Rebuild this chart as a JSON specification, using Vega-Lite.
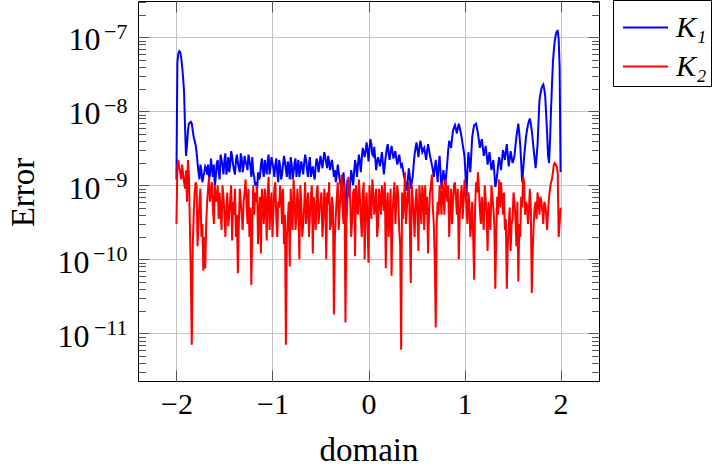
{
  "$schema": "https://vega.github.io/schema/vega-lite/v6.json",
  "width": 461,
  "height": 380,
  "autosize": {"type": "none"},
  "padding": {"left": 138, "top": 1, "right": 121, "bottom": 87},
  "background": "white",
  "config": {
    "view": {"stroke": "#000", "strokeWidth": 1},
    "axis": {
      "domain": false,
      "labelFont": "Liberation Serif",
      "titleFont": "Liberation Serif",
      "labelFontSize": 30,
      "titleFontSize": 33,
      "titleFontWeight": "normal",
      "labelColor": "#000",
      "titleColor": "#000",
      "gridColor": "#c4c4c4",
      "gridWidth": 1,
      "tickColor": "#555",
      "tickWidth": 1,
      "labelOverlap": false,
      "labelFlush": false,
      "labelBound": false
    }
  },
  "datasets": {
    "err": [
      {"x": -2, "K1": 1.2e-9, "K2": 3e-10},
      {"x": -1.98, "K1": 6e-8, "K2": 2.2e-9},
      {"x": -1.96, "K1": 6.3e-8, "K2": 1.5e-9},
      {"x": -1.94, "K1": 4e-8, "K2": 1.9e-9},
      {"x": -1.92, "K1": 1.8e-8, "K2": 1.1e-9},
      {"x": -1.9, "K1": 2.5e-9, "K2": 1.6e-9},
      {"x": -1.88, "K1": 5.5e-9, "K2": 2.2e-9},
      {"x": -1.86, "K1": 7e-9, "K2": 3e-10},
      {"x": -1.84, "K1": 6.8e-9, "K2": 7e-12},
      {"x": -1.82, "K1": 4.5e-9, "K2": 4e-10},
      {"x": -1.8, "K1": 3.5e-9, "K2": 1.1e-9},
      {"x": -1.78, "K1": 2e-9, "K2": 1.5e-10},
      {"x": -1.76, "K1": 1.2e-9, "K2": 6e-10},
      {"x": -1.74, "K1": 1.6e-9, "K2": 2e-10},
      {"x": -1.72, "K1": 1.3e-9, "K2": 7e-11},
      {"x": -1.7, "K1": 1.8e-9, "K2": 7.5e-11},
      {"x": -1.68, "K1": 1.4e-9, "K2": 6e-10},
      {"x": -1.66, "K1": 1.2e-9, "K2": 1.3e-9},
      {"x": -1.64, "K1": 2.3e-9, "K2": 8e-10},
      {"x": -1.62, "K1": 1.3e-9, "K2": 5e-10},
      {"x": -1.6, "K1": 1e-9, "K2": 1e-9},
      {"x": -1.58, "K1": 2e-9, "K2": 7e-10},
      {"x": -1.56, "K1": 1.5e-9, "K2": 3.5e-10},
      {"x": -1.54, "K1": 2.6e-9, "K2": 4.5e-10},
      {"x": -1.52, "K1": 1.8e-9, "K2": 1e-9},
      {"x": -1.5, "K1": 2.2e-9, "K2": 4e-10},
      {"x": -1.48, "K1": 1.4e-9, "K2": 5e-10},
      {"x": -1.46, "K1": 2.4e-9, "K2": 2.8e-10},
      {"x": -1.44, "K1": 1.9e-9, "K2": 6.5e-10},
      {"x": -1.42, "K1": 2.5e-9, "K2": 1.8e-10},
      {"x": -1.4, "K1": 1.6e-9, "K2": 4e-10},
      {"x": -1.38, "K1": 2.2e-9, "K2": 2e-10},
      {"x": -1.36, "K1": 2e-9, "K2": 6.5e-11},
      {"x": -1.34, "K1": 1.5e-9, "K2": 9e-10},
      {"x": -1.32, "K1": 2.3e-9, "K2": 4e-10},
      {"x": -1.3, "K1": 1.8e-9, "K2": 6e-10},
      {"x": -1.28, "K1": 2.1e-9, "K2": 1.2e-9},
      {"x": -1.26, "K1": 1.6e-9, "K2": 3e-10},
      {"x": -1.24, "K1": 2.2e-9, "K2": 2e-10},
      {"x": -1.22, "K1": 1.3e-9, "K2": 4.5e-11},
      {"x": -1.2, "K1": 1.5e-9, "K2": 1e-9},
      {"x": -1.18, "K1": 1e-9, "K2": 8e-10},
      {"x": -1.16, "K1": 8.5e-10, "K2": 1e-9},
      {"x": -1.14, "K1": 1.2e-9, "K2": 4e-10},
      {"x": -1.12, "K1": 1.9e-9, "K2": 1.2e-10},
      {"x": -1.1, "K1": 1.6e-9, "K2": 5.5e-10},
      {"x": -1.08, "K1": 2.2e-9, "K2": 9e-10},
      {"x": -1.06, "K1": 1.4e-9, "K2": 1.8e-10},
      {"x": -1.04, "K1": 2.6e-9, "K2": 1.3e-9},
      {"x": -1.02, "K1": 1.8e-9, "K2": 5e-10},
      {"x": -1, "K1": 2e-9, "K2": 2e-10},
      {"x": -0.98, "K1": 1.3e-9, "K2": 9e-10},
      {"x": -0.96, "K1": 2.3e-9, "K2": 3.5e-10},
      {"x": -0.94, "K1": 1.1e-9, "K2": 6e-10},
      {"x": -0.92, "K1": 1.8e-9, "K2": 1e-9},
      {"x": -0.9, "K1": 1.4e-9, "K2": 3e-10},
      {"x": -0.88, "K1": 2.5e-9, "K2": 1.6e-10},
      {"x": -0.86, "K1": 1.6e-9, "K2": 7e-12},
      {"x": -0.84, "K1": 2.1e-9, "K2": 3.5e-10},
      {"x": -0.82, "K1": 1.2e-9, "K2": 8e-11},
      {"x": -0.8, "K1": 1.9e-9, "K2": 4e-10},
      {"x": -0.78, "K1": 1.5e-9, "K2": 1.2e-9},
      {"x": -0.76, "K1": 2.3e-9, "K2": 2.5e-10},
      {"x": -0.74, "K1": 1.7e-9, "K2": 9e-10},
      {"x": -0.72, "K1": 1.3e-9, "K2": 1e-10},
      {"x": -0.7, "K1": 2.1e-9, "K2": 6e-10},
      {"x": -0.68, "K1": 1.4e-9, "K2": 3e-10},
      {"x": -0.66, "K1": 2.6e-9, "K2": 1.1e-9},
      {"x": -0.64, "K1": 1.6e-9, "K2": 5e-10},
      {"x": -0.62, "K1": 2e-9, "K2": 2e-10},
      {"x": -0.6, "K1": 1.3e-9, "K2": 7e-10},
      {"x": -0.58, "K1": 1.8e-9, "K2": 1.2e-10},
      {"x": -0.56, "K1": 1.2e-9, "K2": 4.5e-10},
      {"x": -0.54, "K1": 2.3e-9, "K2": 8e-10},
      {"x": -0.52, "K1": 1.5e-9, "K2": 3e-10},
      {"x": -0.5, "K1": 2.5e-9, "K2": 6e-10},
      {"x": -0.48, "K1": 1.7e-9, "K2": 2e-10},
      {"x": -0.46, "K1": 2.8e-9, "K2": 9e-10},
      {"x": -0.44, "K1": 2e-9, "K2": 1e-10},
      {"x": -0.42, "K1": 2.5e-9, "K2": 5.5e-10},
      {"x": -0.4, "K1": 1.6e-9, "K2": 2.5e-10},
      {"x": -0.38, "K1": 2.2e-9, "K2": 7e-10},
      {"x": -0.36, "K1": 1.3e-9, "K2": 1.8e-11},
      {"x": -0.34, "K1": 1.1e-9, "K2": 4e-10},
      {"x": -0.32, "K1": 1.9e-9, "K2": 1.1e-9},
      {"x": -0.3, "K1": 1.2e-9, "K2": 5e-10},
      {"x": -0.28, "K1": 8e-10, "K2": 1.4e-9},
      {"x": -0.26, "K1": 1.5e-9, "K2": 3e-10},
      {"x": -0.24, "K1": 3e-10, "K2": 1.4e-11},
      {"x": -0.22, "K1": 1.2e-9, "K2": 6e-10},
      {"x": -0.2, "K1": 7e-10, "K2": 1e-9},
      {"x": -0.18, "K1": 1.6e-9, "K2": 2e-10},
      {"x": -0.16, "K1": 1e-9, "K2": 8e-10},
      {"x": -0.14, "K1": 2.2e-9, "K2": 1.1e-10},
      {"x": -0.12, "K1": 1.3e-9, "K2": 6e-10},
      {"x": -0.1, "K1": 2.6e-9, "K2": 1.2e-9},
      {"x": -0.08, "K1": 1.5e-9, "K2": 3.5e-10},
      {"x": -0.06, "K1": 3.2e-9, "K2": 7.5e-10},
      {"x": -0.04, "K1": 2.4e-9, "K2": 1e-10},
      {"x": -0.02, "K1": 3.8e-9, "K2": 8e-10},
      {"x": 0, "K1": 2.1e-9, "K2": 9e-11},
      {"x": 0.02, "K1": 4.2e-9, "K2": 6e-10},
      {"x": 0.04, "K1": 2.6e-9, "K2": 1.2e-9},
      {"x": 0.06, "K1": 3.3e-9, "K2": 4e-10},
      {"x": 0.08, "K1": 1.6e-9, "K2": 9e-10},
      {"x": 0.1, "K1": 2.4e-9, "K2": 3e-10},
      {"x": 0.12, "K1": 1.8e-9, "K2": 6.5e-10},
      {"x": 0.14, "K1": 2.8e-9, "K2": 1e-9},
      {"x": 0.16, "K1": 1.4e-9, "K2": 4.5e-10},
      {"x": 0.18, "K1": 2.5e-9, "K2": 7.6e-11},
      {"x": 0.2, "K1": 3.6e-9, "K2": 8e-10},
      {"x": 0.22, "K1": 2.2e-9, "K2": 4e-10},
      {"x": 0.24, "K1": 3.4e-9, "K2": 6e-11},
      {"x": 0.26, "K1": 2.3e-9, "K2": 7e-10},
      {"x": 0.28, "K1": 2.9e-9, "K2": 3e-10},
      {"x": 0.3, "K1": 1.9e-9, "K2": 1e-9},
      {"x": 0.32, "K1": 2.6e-9, "K2": 2.5e-10},
      {"x": 0.34, "K1": 1.8e-9, "K2": 6e-12},
      {"x": 0.36, "K1": 1.6e-9, "K2": 3.5e-10},
      {"x": 0.38, "K1": 1.2e-9, "K2": 1.5e-9},
      {"x": 0.4, "K1": 8.5e-10, "K2": 5e-10},
      {"x": 0.42, "K1": 1.7e-9, "K2": 1.1e-9},
      {"x": 0.44, "K1": 9e-10, "K2": 4.8e-11},
      {"x": 0.46, "K1": 1.3e-9, "K2": 7e-10},
      {"x": 0.48, "K1": 2.6e-9, "K2": 2e-10},
      {"x": 0.5, "K1": 3.8e-9, "K2": 9e-10},
      {"x": 0.52, "K1": 2.4e-9, "K2": 1.3e-10},
      {"x": 0.54, "K1": 4e-9, "K2": 6e-10},
      {"x": 0.56, "K1": 2.8e-9, "K2": 1e-9},
      {"x": 0.58, "K1": 3.2e-9, "K2": 2.5e-10},
      {"x": 0.6, "K1": 2.2e-9, "K2": 4e-10},
      {"x": 0.62, "K1": 3.6e-9, "K2": 1.2e-10},
      {"x": 0.64, "K1": 2.5e-9, "K2": 8e-10},
      {"x": 0.66, "K1": 1.9e-9, "K2": 1.4e-9},
      {"x": 0.68, "K1": 1.3e-9, "K2": 3e-10},
      {"x": 0.7, "K1": 2.2e-9, "K2": 1.2e-11},
      {"x": 0.72, "K1": 1.1e-9, "K2": 6e-10},
      {"x": 0.74, "K1": 2.5e-9, "K2": 1e-9},
      {"x": 0.76, "K1": 9e-10, "K2": 4e-10},
      {"x": 0.78, "K1": 1.6e-9, "K2": 8e-10},
      {"x": 0.8, "K1": 1e-9, "K2": 1.2e-9},
      {"x": 0.82, "K1": 2e-9, "K2": 6e-10},
      {"x": 0.84, "K1": 4e-9, "K2": 2e-10},
      {"x": 0.86, "K1": 3.2e-9, "K2": 9e-10},
      {"x": 0.88, "K1": 5.5e-9, "K2": 6e-10},
      {"x": 0.9, "K1": 6.5e-9, "K2": 1.1e-9},
      {"x": 0.92, "K1": 5e-9, "K2": 4e-10},
      {"x": 0.94, "K1": 6.8e-9, "K2": 1e-10},
      {"x": 0.96, "K1": 5.2e-9, "K2": 7e-10},
      {"x": 0.98, "K1": 3.6e-9, "K2": 3.5e-10},
      {"x": 1, "K1": 2.4e-9, "K2": 1.2e-9},
      {"x": 1.02, "K1": 7e-10, "K2": 5e-10},
      {"x": 1.04, "K1": 2.8e-9, "K2": 8e-10},
      {"x": 1.06, "K1": 1.5e-9, "K2": 2e-10},
      {"x": 1.08, "K1": 4.5e-9, "K2": 6e-10},
      {"x": 1.1, "K1": 6.5e-9, "K2": 5.3e-11},
      {"x": 1.12, "K1": 6.8e-9, "K2": 1.1e-9},
      {"x": 1.14, "K1": 5e-9, "K2": 1.5e-9},
      {"x": 1.16, "K1": 3.2e-9, "K2": 4.5e-10},
      {"x": 1.18, "K1": 4.2e-9, "K2": 7e-10},
      {"x": 1.2, "K1": 2.5e-9, "K2": 2.5e-10},
      {"x": 1.22, "K1": 3.4e-9, "K2": 6.5e-10},
      {"x": 1.24, "K1": 1.9e-9, "K2": 1.3e-10},
      {"x": 1.26, "K1": 2.8e-9, "K2": 3.5e-10},
      {"x": 1.28, "K1": 1.6e-9, "K2": 1e-9},
      {"x": 1.3, "K1": 2.2e-9, "K2": 5e-10},
      {"x": 1.32, "K1": 9.5e-10, "K2": 4e-11},
      {"x": 1.34, "K1": 1.4e-9, "K2": 7e-10},
      {"x": 1.36, "K1": 2.4e-9, "K2": 1.2e-9},
      {"x": 1.38, "K1": 1.6e-9, "K2": 1.1e-9},
      {"x": 1.4, "K1": 3e-9, "K2": 4e-10},
      {"x": 1.42, "K1": 2.2e-9, "K2": 2.5e-10},
      {"x": 1.44, "K1": 3.6e-9, "K2": 4e-11},
      {"x": 1.46, "K1": 1.8e-9, "K2": 3e-10},
      {"x": 1.48, "K1": 2.9e-9, "K2": 1.3e-10},
      {"x": 1.5, "K1": 2e-9, "K2": 3.5e-10},
      {"x": 1.52, "K1": 2.5e-9, "K2": 6e-10},
      {"x": 1.54, "K1": 4.5e-9, "K2": 1.5e-10},
      {"x": 1.56, "K1": 6.8e-9, "K2": 5e-11},
      {"x": 1.58, "K1": 3.5e-9, "K2": 2e-10},
      {"x": 1.6, "K1": 1.1e-9, "K2": 5e-10},
      {"x": 1.62, "K1": 2.4e-9, "K2": 1.1e-9},
      {"x": 1.64, "K1": 4.5e-9, "K2": 6e-10},
      {"x": 1.66, "K1": 6.5e-9, "K2": 3e-10},
      {"x": 1.68, "K1": 8e-9, "K2": 9e-10},
      {"x": 1.7, "K1": 5.5e-9, "K2": 3.5e-11},
      {"x": 1.72, "K1": 3e-9, "K2": 3e-10},
      {"x": 1.74, "K1": 1.7e-9, "K2": 6e-10},
      {"x": 1.76, "K1": 3.5e-9, "K2": 8e-10},
      {"x": 1.78, "K1": 1.4e-8, "K2": 4e-10},
      {"x": 1.8, "K1": 2e-8, "K2": 6e-10},
      {"x": 1.82, "K1": 2.3e-8, "K2": 3e-10},
      {"x": 1.84, "K1": 1.6e-8, "K2": 5.5e-10},
      {"x": 1.86, "K1": 5e-9, "K2": 2.5e-10},
      {"x": 1.88, "K1": 2e-9, "K2": 7e-10},
      {"x": 1.9, "K1": 1e-8, "K2": 1.1e-9},
      {"x": 1.92, "K1": 4.5e-8, "K2": 1.5e-9},
      {"x": 1.94, "K1": 9e-8, "K2": 2e-9},
      {"x": 1.96, "K1": 1.2e-7, "K2": 1.8e-9},
      {"x": 1.98, "K1": 9.5e-8, "K2": 2e-10},
      {"x": 2, "K1": 1.5e-9, "K2": 5e-10},
      {"x": -1.99, "K1": 4.5e-8, "K2": 1.8e-9},
      {"x": -1.97, "K1": 6.5e-8, "K2": 1.7e-9},
      {"x": -1.95, "K1": 5.3e-8, "K2": 1.2e-9},
      {"x": -1.93, "K1": 2.8e-8, "K2": 1.4e-9},
      {"x": -1.91, "K1": 6e-9, "K2": 9e-10},
      {"x": -1.89, "K1": 3.5e-9, "K2": 6e-10},
      {"x": -1.87, "K1": 6.8e-9, "K2": 1.4e-9},
      {"x": -1.85, "K1": 7.2e-9, "K2": 6e-11},
      {"x": -1.83, "K1": 5.5e-9, "K2": 1.5e-10},
      {"x": -1.81, "K1": 4e-9, "K2": 8e-10},
      {"x": -1.79, "K1": 2.8e-9, "K2": 1e-9},
      {"x": -1.77, "K1": 1.5e-9, "K2": 3e-10},
      {"x": -1.75, "K1": 1.9e-9, "K2": 9e-10},
      {"x": -1.73, "K1": 1.1e-9, "K2": 3e-10},
      {"x": -1.71, "K1": 1.5e-9, "K2": 2e-10},
      {"x": -1.69, "K1": 1.7e-9, "K2": 3e-10},
      {"x": -1.67, "K1": 1.9e-9, "K2": 9e-10},
      {"x": -1.65, "K1": 1.4e-9, "K2": 6e-10},
      {"x": -1.63, "K1": 1.7e-9, "K2": 1.1e-9},
      {"x": -1.61, "K1": 1.9e-9, "K2": 3e-10},
      {"x": -1.59, "K1": 1.3e-9, "K2": 6e-10},
      {"x": -1.57, "K1": 2.2e-9, "K2": 1e-9},
      {"x": -1.55, "K1": 1.2e-9, "K2": 8e-10},
      {"x": -1.53, "K1": 2.2e-9, "K2": 2.5e-10},
      {"x": -1.51, "K1": 1.4e-9, "K2": 7e-10},
      {"x": -1.49, "K1": 2.7e-9, "K2": 2e-10},
      {"x": -1.47, "K1": 1.7e-9, "K2": 8e-10},
      {"x": -1.45, "K1": 1.5e-9, "K2": 4e-10},
      {"x": -1.43, "K1": 2.9e-9, "K2": 1e-9},
      {"x": -1.41, "K1": 1.9e-9, "K2": 6e-10},
      {"x": -1.39, "K1": 1.4e-9, "K2": 9e-10},
      {"x": -1.37, "K1": 2.6e-9, "K2": 4e-10},
      {"x": -1.35, "K1": 1.7e-9, "K2": 3e-10},
      {"x": -1.33, "K1": 2.7e-9, "K2": 6e-10},
      {"x": -1.31, "K1": 1.5e-9, "K2": 2.5e-10},
      {"x": -1.29, "K1": 2.5e-9, "K2": 8e-10},
      {"x": -1.27, "K1": 1.9e-9, "K2": 6e-10},
      {"x": -1.25, "K1": 2.6e-9, "K2": 9e-10},
      {"x": -1.23, "K1": 1.8e-9, "K2": 5e-10},
      {"x": -1.21, "K1": 2.4e-9, "K2": 3e-10},
      {"x": -1.19, "K1": 1.3e-9, "K2": 4e-10},
      {"x": -1.17, "K1": 1.1e-9, "K2": 6e-10},
      {"x": -1.15, "K1": 1.5e-9, "K2": 1.6e-10},
      {"x": -1.13, "K1": 1.3e-9, "K2": 7e-10},
      {"x": -1.11, "K1": 2.3e-9, "K2": 9e-10},
      {"x": -1.09, "K1": 1.3e-9, "K2": 3e-10},
      {"x": -1.07, "K1": 1.8e-9, "K2": 6e-10},
      {"x": -1.05, "K1": 2.1e-9, "K2": 8e-10},
      {"x": -1.03, "K1": 1.4e-9, "K2": 2.5e-10},
      {"x": -1.01, "K1": 2.4e-9, "K2": 8e-10},
      {"x": -0.99, "K1": 1.7e-9, "K2": 4.5e-10},
      {"x": -0.97, "K1": 1.9e-9, "K2": 1.1e-9},
      {"x": -0.95, "K1": 1.5e-9, "K2": 2e-10},
      {"x": -0.93, "K1": 2.2e-9, "K2": 5e-10},
      {"x": -0.91, "K1": 1.2e-9, "K2": 7e-10},
      {"x": -0.89, "K1": 1.9e-9, "K2": 9e-10},
      {"x": -0.87, "K1": 2.1e-9, "K2": 4e-10},
      {"x": -0.85, "K1": 1.3e-9, "K2": 2e-10},
      {"x": -0.83, "K1": 1.7e-9, "K2": 6e-10},
      {"x": -0.81, "K1": 2.4e-9, "K2": 9e-10},
      {"x": -0.79, "K1": 1.2e-9, "K2": 2.5e-10},
      {"x": -0.77, "K1": 2e-9, "K2": 7e-10},
      {"x": -0.75, "K1": 1.3e-9, "K2": 4e-10},
      {"x": -0.73, "K1": 2.2e-9, "K2": 5e-10},
      {"x": -0.71, "K1": 1.6e-9, "K2": 1e-9},
      {"x": -0.69, "K1": 1.8e-9, "K2": 2e-10},
      {"x": -0.67, "K1": 2e-9, "K2": 5e-10},
      {"x": -0.65, "K1": 2.2e-9, "K2": 3e-10},
      {"x": -0.63, "K1": 1.3e-9, "K2": 8e-10},
      {"x": -0.61, "K1": 2.4e-9, "K2": 4e-10},
      {"x": -0.59, "K1": 1.6e-9, "K2": 1e-9},
      {"x": -0.57, "K1": 1.4e-9, "K2": 7e-10},
      {"x": -0.55, "K1": 1.8e-9, "K2": 2.5e-10},
      {"x": -0.53, "K1": 2e-9, "K2": 1e-9},
      {"x": -0.51, "K1": 1.9e-9, "K2": 4.5e-10},
      {"x": -0.49, "K1": 2.1e-9, "K2": 8e-10},
      {"x": -0.47, "K1": 2.2e-9, "K2": 3.5e-10},
      {"x": -0.45, "K1": 2.4e-9, "K2": 6e-10},
      {"x": -0.43, "K1": 1.7e-9, "K2": 8e-10},
      {"x": -0.41, "K1": 2.1e-9, "K2": 1.1e-9},
      {"x": -0.39, "K1": 1.9e-9, "K2": 3e-10},
      {"x": -0.37, "K1": 1.7e-9, "K2": 5e-10},
      {"x": -0.35, "K1": 1.6e-9, "K2": 2e-10},
      {"x": -0.33, "K1": 1.4e-9, "K2": 7e-10},
      {"x": -0.31, "K1": 1.5e-9, "K2": 2.5e-10},
      {"x": -0.29, "K1": 1e-9, "K2": 8e-10},
      {"x": -0.27, "K1": 1.2e-9, "K2": 5e-10},
      {"x": -0.25, "K1": 9e-10, "K2": 1.1e-9},
      {"x": -0.23, "K1": 6e-10, "K2": 3e-10},
      {"x": -0.21, "K1": 1e-9, "K2": 1.3e-9},
      {"x": -0.19, "K1": 1.1e-9, "K2": 6e-10},
      {"x": -0.17, "K1": 1.3e-9, "K2": 3.5e-10},
      {"x": -0.15, "K1": 1.5e-9, "K2": 9e-10},
      {"x": -0.13, "K1": 1.8e-9, "K2": 1e-9},
      {"x": -0.11, "K1": 1.9e-9, "K2": 4e-10},
      {"x": -0.09, "K1": 2.1e-9, "K2": 7e-10},
      {"x": -0.07, "K1": 2.3e-9, "K2": 2e-10},
      {"x": -0.05, "K1": 2.8e-9, "K2": 1.1e-9},
      {"x": -0.03, "K1": 2.9e-9, "K2": 5e-10},
      {"x": -0.01, "K1": 3e-9, "K2": 3e-10},
      {"x": 0.01, "K1": 3.1e-9, "K2": 1e-9},
      {"x": 0.03, "K1": 3.6e-9, "K2": 3.5e-10},
      {"x": 0.05, "K1": 2.5e-9, "K2": 8e-10},
      {"x": 0.07, "K1": 2.3e-9, "K2": 6e-10},
      {"x": 0.09, "K1": 2.1e-9, "K2": 2e-10},
      {"x": 0.11, "K1": 2.1e-9, "K2": 9e-10},
      {"x": 0.13, "K1": 2.3e-9, "K2": 4e-10},
      {"x": 0.15, "K1": 2e-9, "K2": 7e-10},
      {"x": 0.17, "K1": 1.9e-9, "K2": 1.1e-9},
      {"x": 0.19, "K1": 3.1e-9, "K2": 5e-10},
      {"x": 0.21, "K1": 2.7e-9, "K2": 2e-10},
      {"x": 0.23, "K1": 2.8e-9, "K2": 9e-10},
      {"x": 0.25, "K1": 2.8e-9, "K2": 4e-10},
      {"x": 0.27, "K1": 2.6e-9, "K2": 1.1e-9},
      {"x": 0.29, "K1": 2.3e-9, "K2": 6e-10},
      {"x": 0.31, "K1": 2.2e-9, "K2": 7e-10},
      {"x": 0.33, "K1": 2.1e-9, "K2": 1.5e-10},
      {"x": 0.35, "K1": 1.9e-9, "K2": 8e-10},
      {"x": 0.37, "K1": 1.3e-9, "K2": 6e-10},
      {"x": 0.39, "K1": 1e-9, "K2": 3e-10},
      {"x": 0.41, "K1": 1.2e-9, "K2": 8e-10},
      {"x": 0.43, "K1": 1.3e-9, "K2": 3e-10},
      {"x": 0.45, "K1": 1.1e-9, "K2": 1e-9},
      {"x": 0.47, "K1": 1.9e-9, "K2": 4e-10},
      {"x": 0.49, "K1": 3.2e-9, "K2": 6e-10},
      {"x": 0.51, "K1": 3e-9, "K2": 4e-10},
      {"x": 0.53, "K1": 3.2e-9, "K2": 1e-9},
      {"x": 0.55, "K1": 3.4e-9, "K2": 3e-10},
      {"x": 0.57, "K1": 3e-9, "K2": 7e-10},
      {"x": 0.59, "K1": 2.7e-9, "K2": 1e-9},
      {"x": 0.61, "K1": 2.9e-9, "K2": 7e-10},
      {"x": 0.63, "K1": 3e-9, "K2": 4e-10},
      {"x": 0.65, "K1": 2.2e-9, "K2": 1e-9},
      {"x": 0.67, "K1": 1.6e-9, "K2": 5e-10},
      {"x": 0.69, "K1": 1.7e-9, "K2": 1e-10},
      {"x": 0.71, "K1": 1.6e-9, "K2": 3e-10},
      {"x": 0.73, "K1": 1.8e-9, "K2": 4e-10},
      {"x": 0.75, "K1": 1.5e-9, "K2": 7e-10},
      {"x": 0.77, "K1": 1.2e-9, "K2": 1.1e-9},
      {"x": 0.79, "K1": 1.3e-9, "K2": 4e-10},
      {"x": 0.81, "K1": 1.4e-9, "K2": 9e-10},
      {"x": 0.83, "K1": 3e-9, "K2": 1e-9},
      {"x": 0.85, "K1": 3.6e-9, "K2": 5e-10},
      {"x": 0.87, "K1": 4.3e-9, "K2": 3e-10},
      {"x": 0.89, "K1": 6e-9, "K2": 1e-9},
      {"x": 0.91, "K1": 5.8e-9, "K2": 7e-10},
      {"x": 0.93, "K1": 5.9e-9, "K2": 9e-10},
      {"x": 0.95, "K1": 6e-9, "K2": 4e-10},
      {"x": 0.97, "K1": 4.4e-9, "K2": 1e-9},
      {"x": 0.99, "K1": 3e-9, "K2": 6e-10},
      {"x": 1.01, "K1": 1.4e-9, "K2": 9e-10},
      {"x": 1.03, "K1": 1.6e-9, "K2": 3e-10},
      {"x": 1.05, "K1": 2.1e-9, "K2": 6e-10},
      {"x": 1.07, "K1": 2.6e-9, "K2": 3e-10},
      {"x": 1.09, "K1": 5.5e-9, "K2": 2e-10},
      {"x": 1.11, "K1": 6.6e-9, "K2": 5e-10},
      {"x": 1.13, "K1": 5.9e-9, "K2": 8e-10},
      {"x": 1.15, "K1": 4e-9, "K2": 9e-10},
      {"x": 1.17, "K1": 3.7e-9, "K2": 3e-10},
      {"x": 1.19, "K1": 3.3e-9, "K2": 4e-10},
      {"x": 1.21, "K1": 2.9e-9, "K2": 1e-9},
      {"x": 1.23, "K1": 2.6e-9, "K2": 4e-10},
      {"x": 1.25, "K1": 2.3e-9, "K2": 6e-10},
      {"x": 1.27, "K1": 2.1e-9, "K2": 2.5e-10},
      {"x": 1.29, "K1": 1.9e-9, "K2": 7e-10},
      {"x": 1.31, "K1": 1.5e-9, "K2": 3e-10},
      {"x": 1.33, "K1": 1.1e-9, "K2": 2e-10},
      {"x": 1.35, "K1": 1.9e-9, "K2": 4e-10},
      {"x": 1.37, "K1": 2e-9, "K2": 5e-10},
      {"x": 1.39, "K1": 2.2e-9, "K2": 7e-10},
      {"x": 1.41, "K1": 2.6e-9, "K2": 8e-10},
      {"x": 1.43, "K1": 2.9e-9, "K2": 3.5e-10},
      {"x": 1.45, "K1": 2.6e-9, "K2": 1.5e-10},
      {"x": 1.47, "K1": 2.3e-9, "K2": 5e-10},
      {"x": 1.49, "K1": 2.4e-9, "K2": 3e-10},
      {"x": 1.51, "K1": 2.2e-9, "K2": 8e-10},
      {"x": 1.53, "K1": 3.4e-9, "K2": 3.5e-10},
      {"x": 1.55, "K1": 5.6e-9, "K2": 6e-10},
      {"x": 1.57, "K1": 5e-9, "K2": 3e-10},
      {"x": 1.59, "K1": 2e-9, "K2": 7e-10},
      {"x": 1.61, "K1": 1.6e-9, "K2": 1.3e-9},
      {"x": 1.63, "K1": 3.3e-9, "K2": 4e-10},
      {"x": 1.65, "K1": 5.5e-9, "K2": 5.5e-10},
      {"x": 1.67, "K1": 7.3e-9, "K2": 4.5e-10},
      {"x": 1.69, "K1": 6.8e-9, "K2": 5e-10},
      {"x": 1.71, "K1": 4.1e-9, "K2": 1.3e-10},
      {"x": 1.73, "K1": 2.3e-9, "K2": 5e-10},
      {"x": 1.75, "K1": 2.4e-9, "K2": 3.5e-10},
      {"x": 1.77, "K1": 7e-9, "K2": 6e-10},
      {"x": 1.79, "K1": 1.7e-8, "K2": 7e-10},
      {"x": 1.81, "K1": 2.2e-8, "K2": 4.5e-10},
      {"x": 1.83, "K1": 2e-8, "K2": 6e-10},
      {"x": 1.85, "K1": 9e-9, "K2": 4e-10},
      {"x": 1.87, "K1": 2.5e-9, "K2": 4.5e-10},
      {"x": 1.89, "K1": 4e-9, "K2": 9e-10},
      {"x": 1.91, "K1": 2.2e-8, "K2": 1.2e-9},
      {"x": 1.93, "K1": 6.8e-8, "K2": 1.9e-9},
      {"x": 1.95, "K1": 1.08e-7, "K2": 1.9e-9},
      {"x": 1.97, "K1": 1.22e-7, "K2": 1.5e-9},
      {"x": 1.99, "K1": 4e-8, "K2": 3e-10}
    ]
  },
  "data": {"name": "err"},
  "transform": [{"fold": ["K1", "K2"], "as": ["series", "err"]}],
  "layer": [
    {
      "transform": [{"filter": "datum.series === 'K1'"}],
      "mark": {"type": "line", "strokeWidth": 2, "clip": true},
      "encoding": {
        "x": {
          "field": "x", "type": "quantitative",
          "scale": {"domain": [-2.4, 2.4], "nice": false, "zero": false},
          "axis": {
            "orient": "bottom", "title": "domain", "labels": false,
            "values": [-2, -1, 0, 1, 2],
            "grid": true, "tickSize": -11,
            "titleY": 79, "titleBaseline": "alphabetic"
          }
        },
        "y": {
          "field": "err", "type": "quantitative",
          "scale": {"type": "log", "domain": [2.27e-12, 3.09e-7], "nice": false},
          "axis": {
            "orient": "left", "title": "Error", "labels": false,
            "titleX": -105, "titleY": 191, "titleAlign": "center", "titleBaseline": "alphabetic", "titleAngle": -90,
            "values": [3e-12, 4e-12, 5e-12, 6e-12, 7e-12, 8e-12, 9e-12, 1e-11, 2e-11, 3e-11, 4e-11, 5e-11, 6e-11, 7e-11, 8e-11, 9e-11, 1e-10, 2e-10, 3e-10, 4e-10, 5e-10, 6e-10, 7e-10, 8e-10, 9e-10, 1e-9, 2e-9, 3e-9, 4e-9, 5e-9, 6e-9, 7e-9, 8e-9, 9e-9, 1e-8, 2e-8, 3e-8, 4e-8, 5e-8, 6e-8, 7e-8, 8e-8, 9e-8, 1e-7, 2e-7, 3e-7],
            "grid": true,
            "gridOpacity": {"condition": {"test": "abs(log(datum.value)/LN10 - round(log(datum.value)/LN10)) < 0.001", "value": 1}, "value": 0},
            "tickSize": {"condition": {"test": "abs(log(datum.value)/LN10 - round(log(datum.value)/LN10)) < 0.001", "value": -11}, "value": -7.5}
          }
        },
        "color": {
          "field": "series", "type": "nominal",
          "scale": {"domain": ["K1", "K2"], "range": ["#0000ff", "#ff0000"]},
          "legend": {
            "orient": "none", "legendX": 475, "legendY": -1,
            "direction": "vertical", "title": null,
            "fillColor": "white", "strokeColor": "#000",
            "padding": 4, "rowPadding": -3, "symbolOffset": 5,
            "symbolType": "stroke", "symbolSize": 2025, "symbolStrokeWidth": 2,
            "labelFont": "Liberation Serif", "labelFontStyle": "italic", "labelFontSize": 30,
            "labelColor": "#000", "labelOffset": 7,
            "labelExpr": "datum.value === 'K1' ? 'K₁\u00a0\u00a0' : 'K₂\u00a0\u00a0'"
          }
        }
      }
    },
    {
      "transform": [{"filter": "datum.series === 'K2'"}],
      "mark": {"type": "line", "strokeWidth": 2, "clip": true},
      "encoding": {
        "x": {
          "field": "x", "type": "quantitative",
          "scale": {"domain": [-2.4, 2.4], "nice": false, "zero": false},
          "axis": {
            "orient": "top", "title": null, "labels": false, "grid": false,
            "values": [-2, -1, 0, 1, 2], "tickSize": -11
          }
        },
        "y": {
          "field": "err", "type": "quantitative",
          "scale": {"type": "log", "domain": [2.27e-12, 3.09e-7], "nice": false},
          "axis": {
            "orient": "right", "title": null, "labels": false, "grid": false,
            "values": [3e-12, 4e-12, 5e-12, 6e-12, 7e-12, 8e-12, 9e-12, 1e-11, 2e-11, 3e-11, 4e-11, 5e-11, 6e-11, 7e-11, 8e-11, 9e-11, 1e-10, 2e-10, 3e-10, 4e-10, 5e-10, 6e-10, 7e-10, 8e-10, 9e-10, 1e-9, 2e-9, 3e-9, 4e-9, 5e-9, 6e-9, 7e-9, 8e-9, 9e-9, 1e-8, 2e-8, 3e-8, 4e-8, 5e-8, 6e-8, 7e-8, 8e-8, 9e-8, 1e-7, 2e-7, 3e-7],
            "tickSize": {"condition": {"test": "abs(log(datum.value)/LN10 - round(log(datum.value)/LN10)) < 0.001", "value": -11}, "value": -7.5}
          }
        },
        "color": {
          "field": "series", "type": "nominal",
          "scale": {"domain": ["K1", "K2"], "range": ["#0000ff", "#ff0000"]}
        }
      }
    },
    {
      "transform": [{"filter": "datum.series === 'K1'"}],
      "mark": {"type": "line", "opacity": 0},
      "encoding": {
        "x": {
          "field": "x", "type": "quantitative",
          "scale": {"domain": [-2.4, 2.4], "nice": false, "zero": false},
          "axis": {
            "orient": "bottom", "title": null, "ticks": false, "grid": false,
            "values": [-2, -1, 0, 1, 2],
            "labelExpr": "datum.value < 0 ? '−' + abs(datum.value) : datum.label",
            "labelFontSize": 30, "labelBaseline": "alphabetic", "labelPadding": 32
          }
        },
        "y": {
          "field": "err", "type": "quantitative",
          "scale": {"type": "log", "domain": [2.27e-12, 3.09e-7], "nice": false},
          "axis": {
            "orient": "left", "title": null, "ticks": false, "grid": false,
            "values": [1e-9, 1e-8, 1e-7],
            "labelExpr": "'10'",
            "labelFontSize": 32, "labelBaseline": "alphabetic",
            "labelOffset": 12.7, "labelPadding": 38
          }
        }
      }
    },
    {
      "transform": [{"filter": "datum.series === 'K1'"}],
      "mark": {"type": "line", "opacity": 0},
      "encoding": {
        "x": {
          "field": "x", "type": "quantitative",
          "scale": {"domain": [-2.4, 2.4], "nice": false, "zero": false},
          "axis": null
        },
        "y": {
          "field": "err", "type": "quantitative",
          "scale": {"type": "log", "domain": [2.27e-12, 3.09e-7], "nice": false},
          "axis": {
            "orient": "left", "title": null, "ticks": false, "grid": false,
            "values": [1e-11, 1e-10],
            "labelExpr": "'10'",
            "labelFontSize": 32, "labelBaseline": "alphabetic",
            "labelOffset": 12.7, "labelPadding": 49
          }
        }
      }
    },
    {
      "transform": [{"filter": "datum.series === 'K1'"}],
      "mark": {"type": "line", "opacity": 0},
      "encoding": {
        "x": {
          "field": "x", "type": "quantitative",
          "scale": {"domain": [-2.4, 2.4], "nice": false, "zero": false},
          "axis": null
        },
        "y": {
          "field": "err", "type": "quantitative",
          "scale": {"type": "log", "domain": [2.27e-12, 3.09e-7], "nice": false},
          "axis": {
            "orient": "left", "title": null, "ticks": false, "grid": false,
            "values": [1e-11, 1e-10, 1e-9, 1e-8, 1e-7],
            "labelExpr": "'−' + abs(round(log(datum.value)/LN10))",
            "labelFontSize": 22, "labelBaseline": "alphabetic",
            "labelOffset": 1, "labelPadding": 11
          }
        }
      }
    }
  ],
  "resolve": {
    "scale": {"x": "independent", "y": "independent"},
    "axis": {"x": "independent", "y": "independent"}
  }
}
